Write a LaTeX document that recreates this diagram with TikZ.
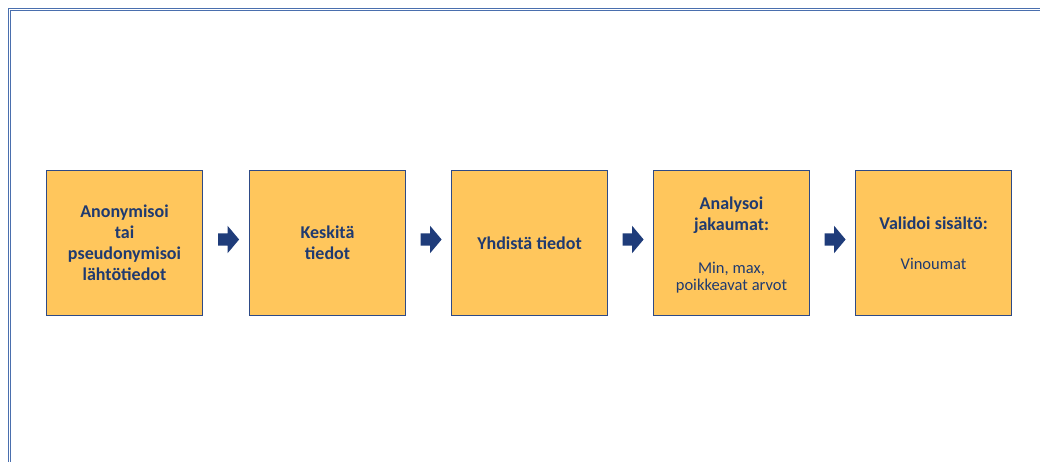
\documentclass[tikz,border=0pt]{standalone}
\usepackage{fontspec}
\setmainfont{Carlito}
\usetikzlibrary{shapes.arrows,calc}
\definecolor{boxfill}{HTML}{FFC65C}
\definecolor{boxline}{HTML}{2E4A86}
\definecolor{navy}{HTML}{1F3A70}
\definecolor{arrowc}{HTML}{1F3C7A}
\definecolor{framec}{HTML}{4A6FAE}
\newcommand{\fixsp}{\spaceskip=0.24em\relax}
\newcommand{\subtxt}{\fontsize{16.5}{17.5}\selectfont\mdseries\fixsp}
\begin{document}
\begin{tikzpicture}[x=1pt,y=-1pt,
  stepbox/.style={draw=boxline,line width=1.3pt,fill=boxfill,minimum width=156pt,minimum height=145pt,inner sep=0pt,text=navy,align=center,text width=152pt,font=\fontsize{18}{21}\selectfont\bfseries},
  blockarrow/.style={single arrow,fill=arrowc,draw=none,inner sep=0pt,minimum height=21pt,single arrow head extend=7.5pt,single arrow tip angle=100,inner ysep=6pt,inner xsep=0pt,text width=0pt}
]
\useasboundingbox (0,0) rectangle (1040,462);
\draw[framec,line width=1.4pt,double=white,double distance=0.9pt] (9.5,9.5) rectangle (1050,475);
\node[stepbox] (b1) at (124.5,243) {Anonymisoi\\tai\\pseudonymisoi\\lähtötiedot};
\node[stepbox] (b2) at (327.5,243) {Keskitä\\tiedot};
\node[stepbox] (b3) at (529.5,243) {\fixsp Yhdistä tiedot};
\node[stepbox] (b4) at (731.5,243) {\rule{0pt}{17pt}Analysoi\\jakaumat:\\[22pt]{\subtxt Min, max,}\\[-3.5pt]{\subtxt poikkeavat arvot}};
\node[stepbox] (b5) at (933.5,243) {\fixsp Validoi sisältö:\\[19pt]{\subtxt Vinoumat}};
\node[blockarrow] (a1) at ($(b1.east)!0.5!(b2.west)+(0,-3.5)$) {};
\node[blockarrow] (a2) at ($(b2.east)!0.5!(b3.west)+(0,-3.5)$) {};
\node[blockarrow] (a3) at ($(b3.east)!0.5!(b4.west)+(0,-3.5)$) {};
\node[blockarrow] (a4) at ($(b4.east)!0.5!(b5.west)+(0,-3.5)$) {};
\end{tikzpicture}
\end{document}
